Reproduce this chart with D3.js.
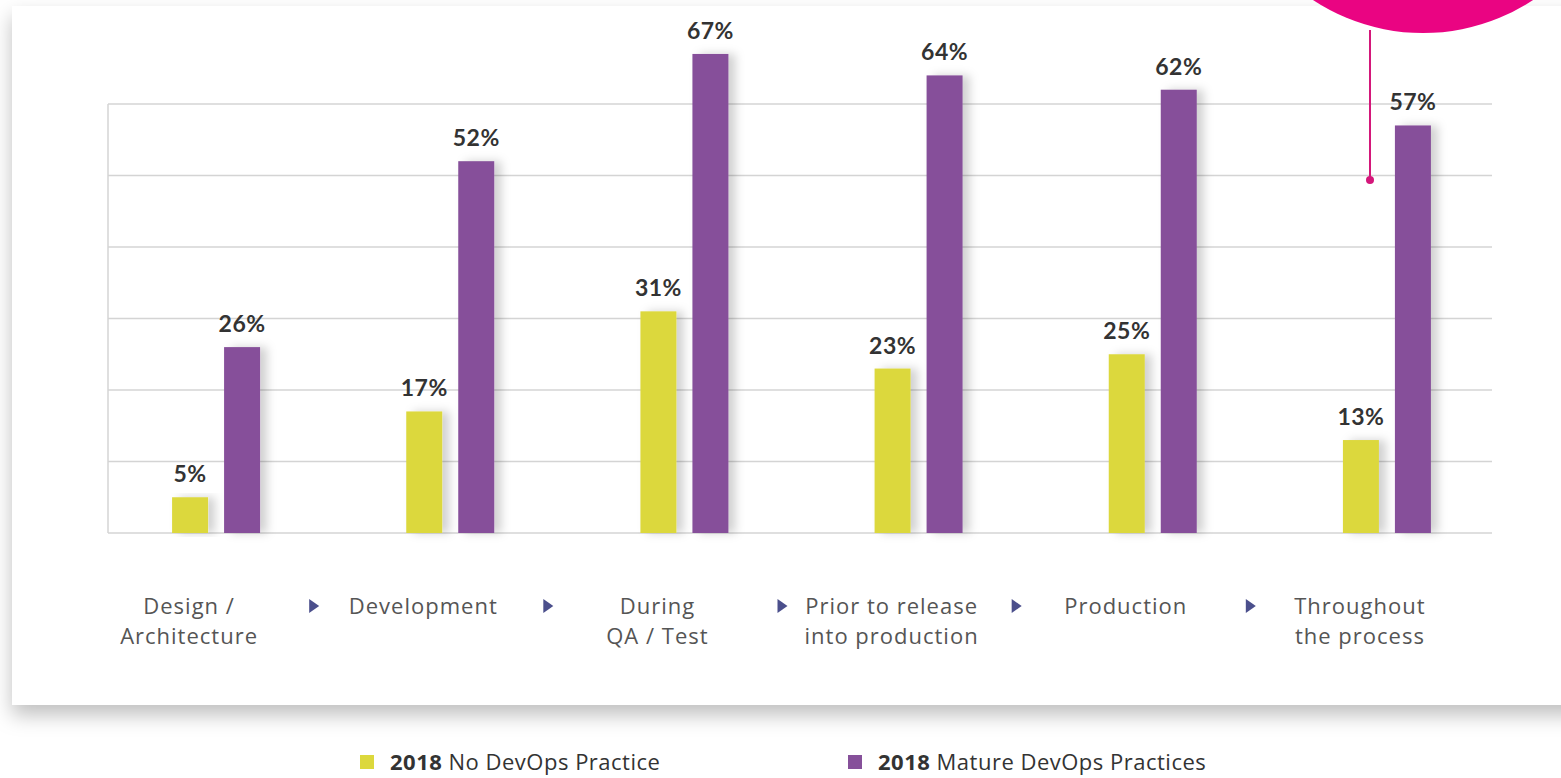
<!DOCTYPE html>
<html>
<head>
<meta charset="utf-8">
<script src="https://cdn.jsdelivr.net/npm/d3@7"></script>
<style>
  body { margin: 0; background: #fff; }
  svg { display: block; }
</style>
</head>
<body>
<div id="chart"></div>
<script>
// chart data
const stages = ["Design / Architecture", "Development", "During QA / Test",
                "Prior to release into production", "Production", "Throughout the process"];
const stageLines = [["Design /", "Architecture"], ["Development"], ["During", "QA / Test"],
                    ["Prior to release", "into production"], ["Production"], ["Throughout", "the process"]];
const noDevOps = [5, 17, 31, 23, 25, 13];
const matureDevOps = [26, 52, 67, 64, 62, 57];
const seriesNames = ["2018 No DevOps Practice", "2018 Mature DevOps Practices"];
const gridTicks = [0, 10, 20, 30, 40, 50, 60];

const W = 1561, H = 778;
const col1 = "#dcd83c", col2 = "#86509a";

const svg = d3.select("#chart").append("svg")
  .attr("width", W).attr("height", H);

const defs = svg.append("defs");
defs.append("filter").attr("id", "cardShadow")
  .attr("x", "-5%").attr("y", "-5%").attr("width", "110%").attr("height", "115%")
  .append("feDropShadow")
  .attr("dx", 0).attr("dy", 10).attr("stdDeviation", 10)
  .attr("flood-color", "#000").attr("flood-opacity", 0.25);
defs.append("filter").attr("id", "barShadow")
  .attr("x", "-50%").attr("y", "-10%").attr("width", "250%").attr("height", "120%")
  .append("feDropShadow")
  .attr("dx", 7).attr("dy", 0).attr("stdDeviation", 5)
  .attr("flood-color", "#000").attr("flood-opacity", 0.18);

// white card
svg.append("rect")
  .attr("x", 12).attr("y", 6).attr("width", 1620).attr("height", 699)
  .attr("fill", "#fff").attr("filter", "url(#cardShadow)");

// scales
const x = d3.scaleBand().domain(stages).range([99, 1504]).padding(0);
const y = d3.scaleLinear().domain([0, 60]).range([533, 104]);
const xs = d3.scaleBand().domain(seriesNames).range([-44, 44]).paddingInner(0.3077);
const cx = d => x(d) + x.bandwidth() / 2;

// grid
svg.append("g").selectAll("line").data(gridTicks).join("line")
  .attr("x1", 108).attr("x2", 1492)
  .attr("y1", d => y(d)).attr("y2", d => y(d))
  .attr("stroke", "#d4d4d4").attr("stroke-width", 1.5);
svg.append("line")
  .attr("x1", 108).attr("x2", 108).attr("y1", y(60)).attr("y2", y(0))
  .attr("stroke", "#d4d4d4").attr("stroke-width", 1.5);

// bars
const rows = stages.map((s, i) => [
  {stage: s, series: seriesNames[0], v: noDevOps[i], c: col1},
  {stage: s, series: seriesNames[1], v: matureDevOps[i], c: col2}
]).flat();

svg.append("g").selectAll("rect").data(rows).join("rect")
  .attr("x", d => cx(d.stage) + xs(d.series))
  .attr("y", d => y(d.v))
  .attr("width", xs.bandwidth())
  .attr("height", d => y(0) - y(d.v))
  .attr("fill", d => d.c)
  .attr("filter", "url(#barShadow)");

svg.append("g").selectAll("text").data(rows).join("text")
  .attr("x", d => cx(d.stage) + xs(d.series) + xs.bandwidth() / 2)
  .attr("y", d => y(d.v) - 15)
  .attr("text-anchor", "middle")
  .attr("font-family", "Lato, sans-serif")
  .attr("font-weight", 700)
  .attr("font-size", 23)
  .attr("letter-spacing", 0.5)
  .attr("fill", "#333")
  .text(d => d.v + "%");

// stage labels
const lab = svg.append("g").selectAll("text").data(stages).join("text")
  .attr("x", d => cx(d) - 27)
  .attr("y", 614)
  .attr("text-anchor", "middle")
  .attr("font-family", "'Open Sans', sans-serif")
  .attr("font-size", 22)
  .attr("letter-spacing", 1)
  .attr("fill", "#555");
lab.selectAll("tspan").data((d, i) => stageLines[i]).join("tspan")
  .attr("x", function() { return d3.select(this.parentNode).attr("x"); })
  .attr("dy", (d, i) => i === 0 ? 0 : 30)
  .text(d => d);

// arrows between stages
svg.append("g").selectAll("path").data(stages.slice(1)).join("path")
  .attr("transform", d => `translate(${x(d) - 20},606)`)
  .attr("d", "M-4,-7L6,0L-4,7Z")
  .attr("fill", "#4b4f8c");

// magenta callout
svg.append("circle").attr("cx", 1423).attr("cy", -167).attr("r", 200).attr("fill", "#ea0482");
svg.append("line").attr("x1", 1370).attr("x2", 1370).attr("y1", 30).attr("y2", 180)
  .attr("stroke", "#d4177a").attr("stroke-width", 2);
svg.append("circle").attr("cx", 1370).attr("cy", 180).attr("r", 4).attr("fill", "#d4177a");

// legend
const legX = [360, 848];
const leg = svg.append("g").selectAll("g").data(seriesNames).join("g")
  .attr("transform", (d, i) => `translate(${legX[i]},755)`);
leg.append("rect").attr("width", 14).attr("height", 14)
  .attr("fill", (d, i) => i === 0 ? col1 : col2);
const lt = leg.append("text").attr("x", 30).attr("y", 15)
  .attr("font-family", "'Open Sans', sans-serif").attr("font-size", 22)
  .attr("letter-spacing", 0.5).attr("fill", "#333");
lt.append("tspan").attr("font-weight", 700).text(d => d.split(" ")[0]);
lt.append("tspan").text(d => " " + d.split(" ").slice(1).join(" "));
</script>
</body>
</html>
